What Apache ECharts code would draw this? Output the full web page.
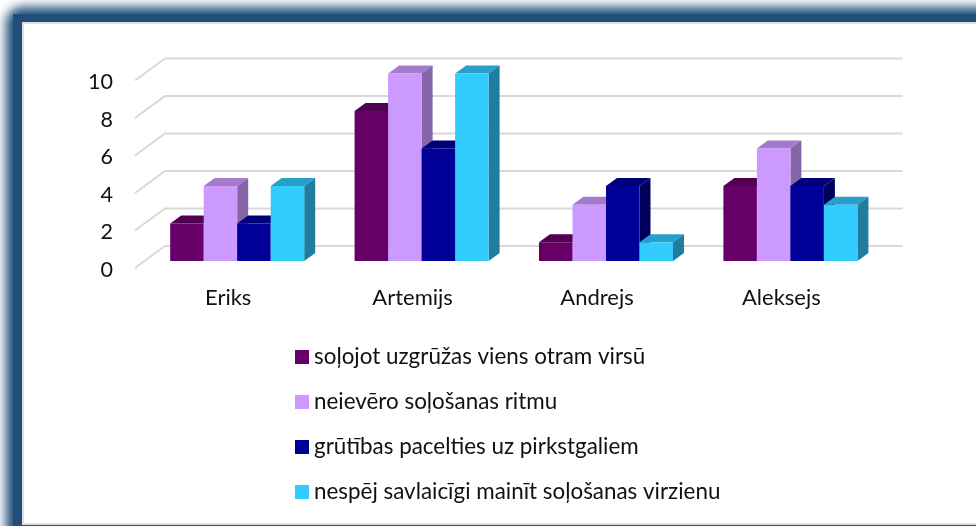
<!DOCTYPE html>
<html>
<head>
<meta charset="utf-8">
<style>html,body{margin:0;padding:0;background:#fff}#c{width:976px;height:526px}</style>
<script src="https://cdn.jsdelivr.net/npm/echarts@6/dist/echarts.min.js"></script>
</head>
<body>
<div id="c"></div>
<script>
const categories = ['Eriks', 'Artemijs', 'Andrejs', 'Aleksejs'];
const yTicks = [0, 2, 4, 6, 8, 10];
const seriesNames = [
  'soļojot uzgrūžas viens otram virsū',
  'neievēro soļošanas ritmu',
  'grūtības pacelties uz pirkstgaliem',
  'nespēj savlaicīgi mainīt soļošanas virzienu'
];
const valuesA = [2, 8, 1, 4];
const valuesB = [4, 10, 3, 6];
const valuesC = [2, 6, 4, 4];
const valuesD = [4, 10, 1, 3];
const allValues = [valuesA, valuesB, valuesC, valuesD];
const faceColors = ['#660066', '#CC99FF', '#000099', '#33CCFF'];
const topColors = ['#520052', '#A37ACC', '#00007A', '#289FC8'];
const sideColors = ['#3D003D', '#8566A8', '#00005C', '#1F7EA0'];

const FONT = 'Lato, "Open Sans", sans-serif';
const DX = 11, DY = 8, BAR_FRACTION = 0.1817;

function barSeries(i) {
  return {
    type: 'custom',
    name: seriesNames[i],
    itemStyle: { color: faceColors[i] },
    clip: false,
    data: allValues[i].map((v, k) => [k, v]),
    renderItem(params, api) {
      const base = api.coord([api.value(0), 0]);
      const top = api.coord([api.value(0), api.value(1)]);
      const w = api.size([1, 0])[0] * BAR_FRACTION;
      const x0 = base[0] + (i - 2) * w, x1 = x0 + w;
      const y0 = base[1], y1 = top[1];
      return {
        type: 'group',
        children: [
          { type: 'polygon', shape: { points: [[x0, y1], [x1, y1], [x1 + DX, y1 - DY], [x0 + DX, y1 - DY]] }, style: { fill: topColors[i] } },
          { type: 'polygon', shape: { points: [[x1, y0], [x1 + DX, y0 - DY], [x1 + DX, y1 - DY], [x1, y1]] }, style: { fill: sideColors[i] } },
          { type: 'rect', shape: { x: x0, y: y1, width: w, height: y0 - y1 }, style: { fill: faceColors[i] } }
        ]
      };
    }
  };
}

const wallSeries = {
  type: 'custom',
  name: 'walls',
  silent: true,
  clip: false,
  data: yTicks.map(v => [0, v]),
  renderItem(params, api) {
    const p = api.coord([0, api.value(1)]);
    const cs = params.coordSys;
    return {
      type: 'polyline',
      shape: { points: [[cs.x - 10, p[1] + 7], [cs.x + 20, p[1] - 15], [cs.x + cs.width + 20, p[1] - 15]] },
      style: { fill: null, stroke: '#D9D9D9', lineWidth: 2 }
    };
  }
};

const chart = echarts.init(document.getElementById('c'), null, { renderer: 'canvas' });
chart.setOption({
  animation: false,
  backgroundColor: '#fff',
  graphic: [
    { type: 'rect', z: -3, shape: { x: 6 - 2000, y: 7, width: 1100, height: 700, r: 16 },
      style: { fill: '#1F4E79', shadowBlur: 11, shadowColor: '#1F4E79', shadowOffsetX: 2000 } },
    { type: 'rect', z: -2, shape: { x: 13, y: 14, width: 1100, height: 700 },
      style: { fill: '#1F4E79' } },
    { type: 'rect', z: -1, shape: { x: 23, y: 23, width: 1000, height: 501 },
      style: { fill: '#fff', stroke: '#DFDFDF', lineWidth: 2 } }
  ],
  grid: { left: 145, top: 73.5, width: 737.6, height: 187.5 },
  xAxis: {
    type: 'category',
    data: categories,
    axisLine: { show: false },
    axisTick: { show: false },
    axisLabel: { color: '#111', fontFamily: FONT, fontSize: 22, margin: 26, padding: [0, 18, 0, 0] }
  },
  yAxis: {
    type: 'value',
    min: 0,
    max: 10,
    interval: 2,
    axisLine: { show: false },
    axisTick: { show: false },
    splitLine: { show: false },
    axisLabel: { color: '#111', fontFamily: FONT, fontSize: 21.5, margin: 32, verticalAlign: 'top', lineHeight: 18 }
  },
  legend: {
    orient: 'vertical',
    left: 295,
    top: 346,
    padding: 0,
    icon: 'rect',
    itemWidth: 14,
    itemHeight: 14,
    itemGap: 23,
    data: seriesNames,
    textStyle: { color: '#111', fontFamily: FONT, fontSize: 22.4, lineHeight: 20 },
    selectedMode: false
  },
  series: [wallSeries, barSeries(0), barSeries(1), barSeries(2), barSeries(3)]
});
</script>
</body>
</html>
